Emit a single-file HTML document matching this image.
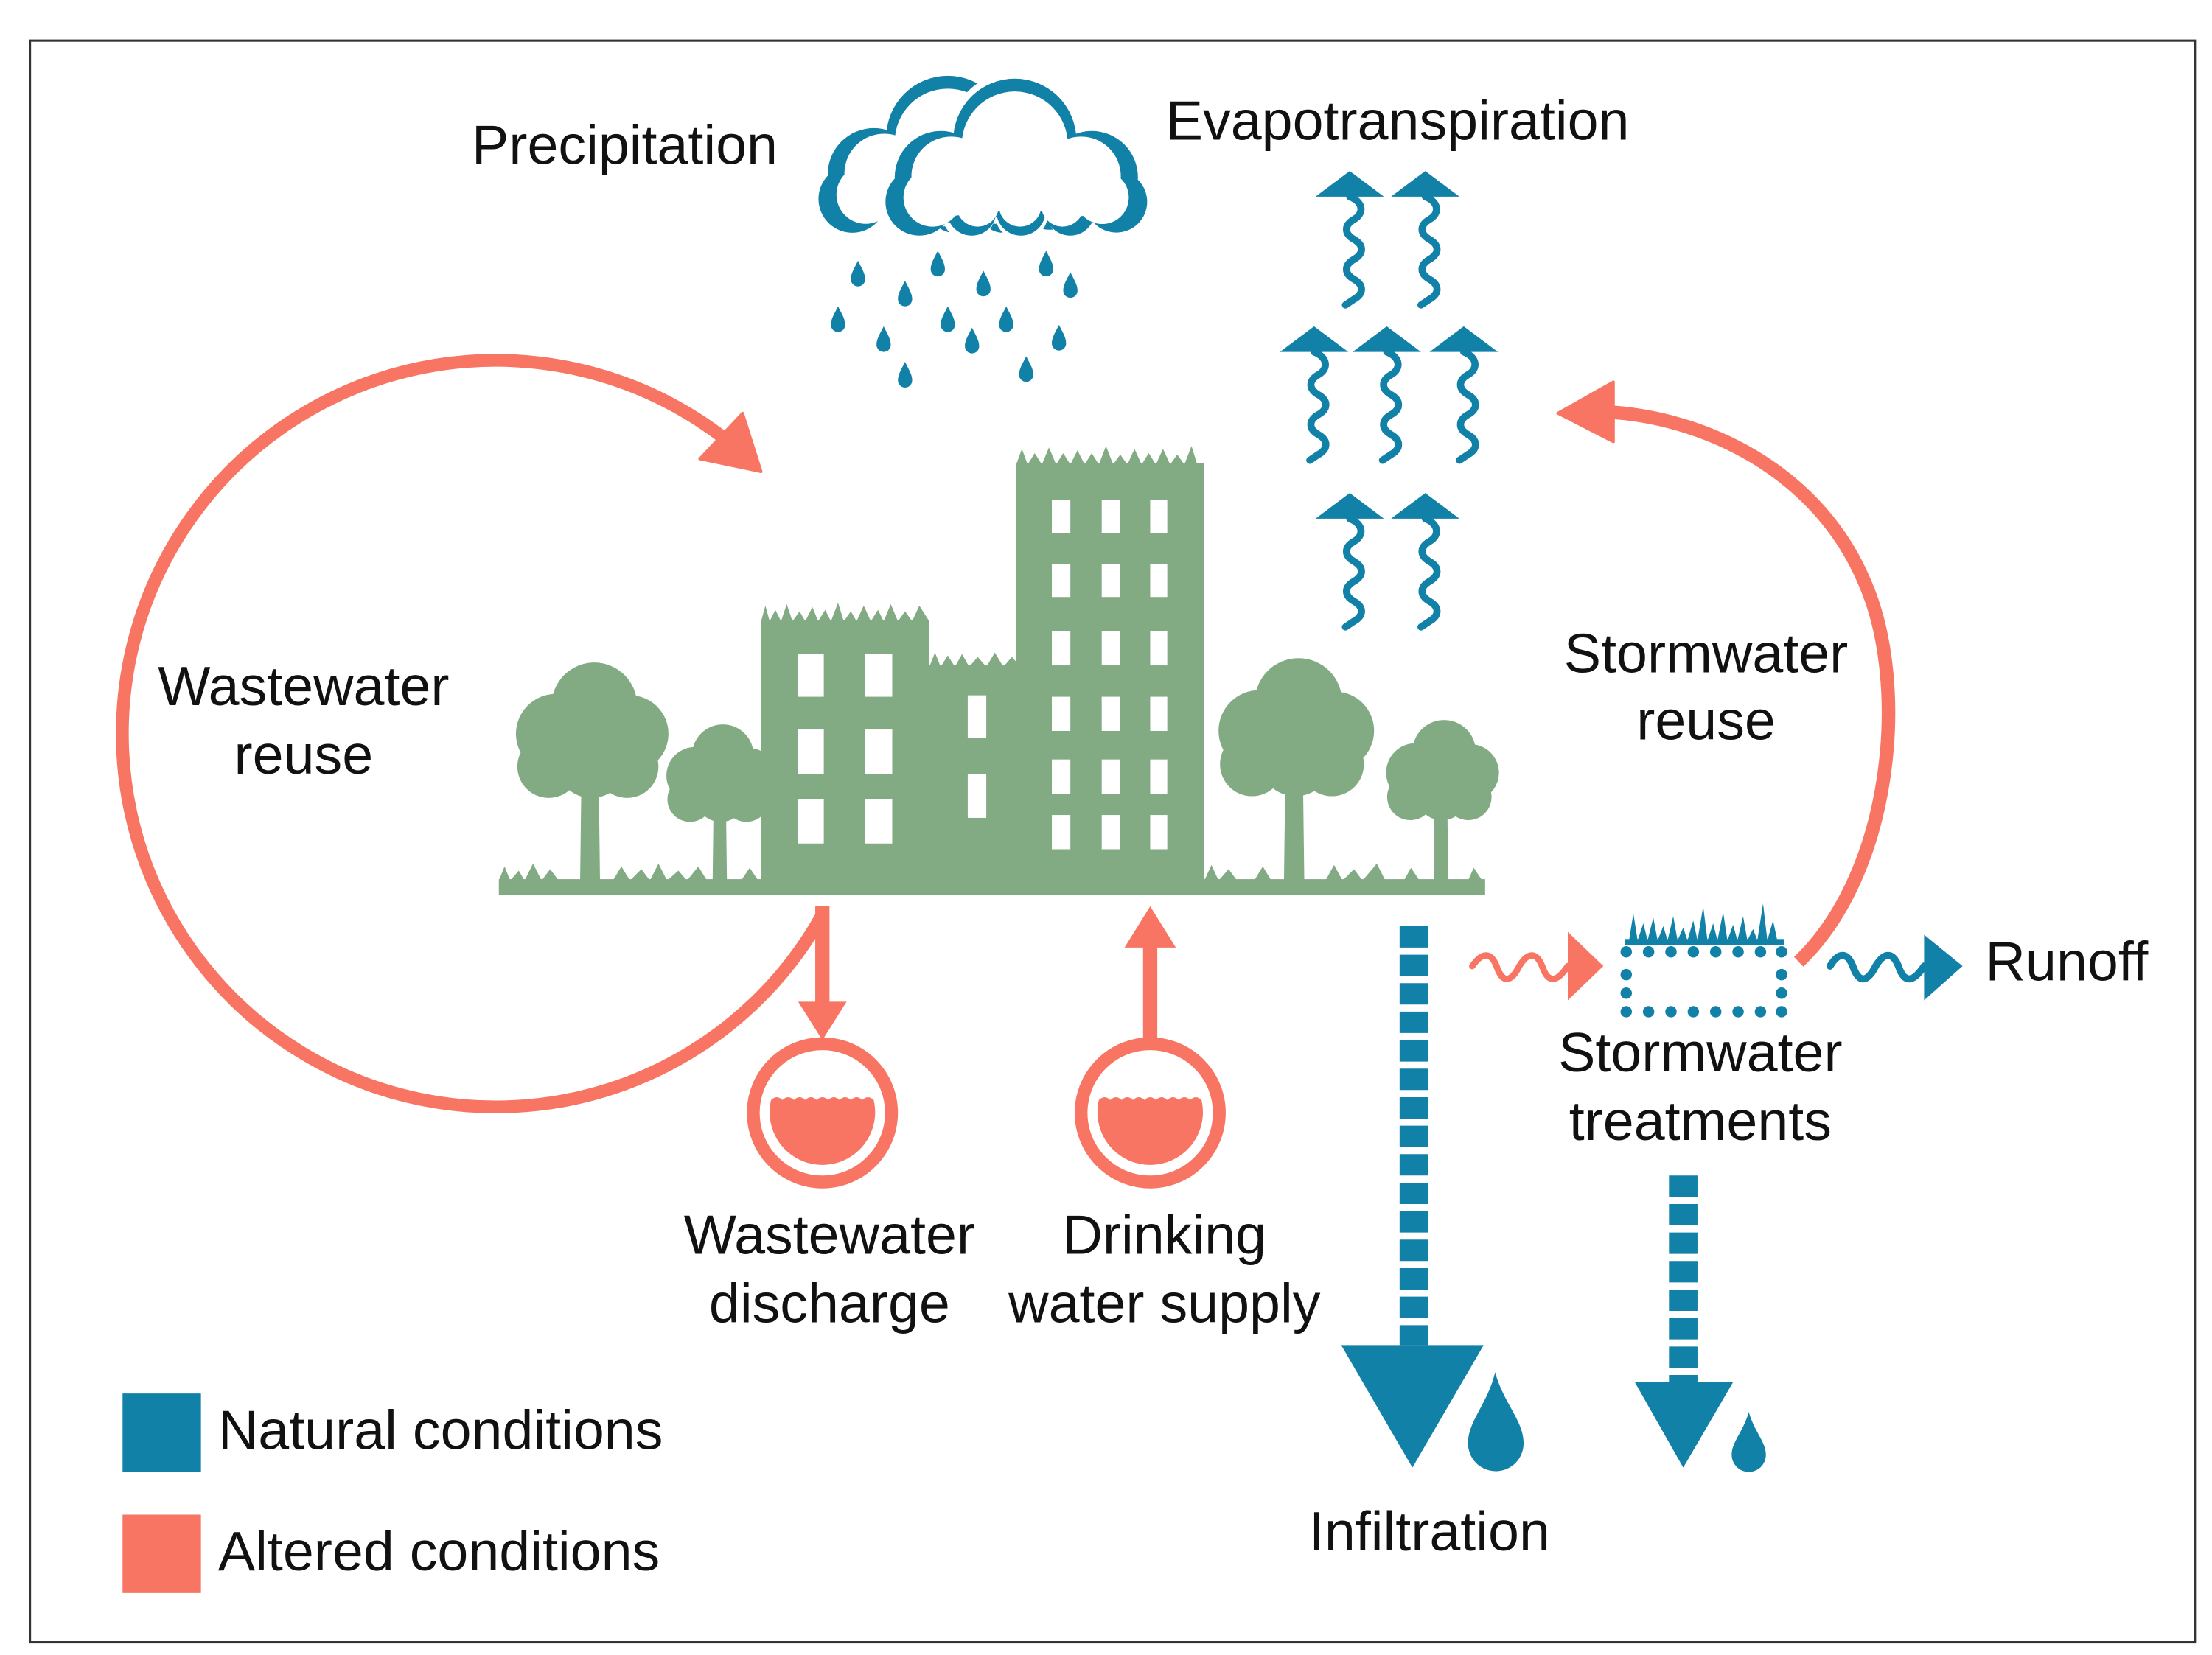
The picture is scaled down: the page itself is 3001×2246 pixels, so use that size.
<!DOCTYPE html>
<html><head><meta charset="utf-8">
<style>
html,body{margin:0;padding:0;background:#fff;}
svg{display:block;}
text{font-family:"Liberation Sans",Arial,sans-serif;font-size:39px;fill:#111;}
</style></head>
<body>
<svg width="3001" height="2246" viewBox="0 0 1552 1161.5" xmlns="http://www.w3.org/2000/svg">
<defs>
<path id="drop" d="M0 -10 C3 -4 5 -1 5 3 A5 5 0 0 1 -5 3 C-5 -1 -3 -4 0 -10Z" fill="#1281a8"/>
<g id="evap">
<path d="M-24 18 L0 0 L24 18 Z" fill="#1281a8"/>
<path d="M0 18 C10 22 10 30 3 34 C-4 38 -4 44 3 48 C10 52 10 58 3 62 C-4 66 -4 72 3 76 C10 80 10 86 3 90 L-3 94" fill="none" stroke="#1281a8" stroke-width="5" stroke-linecap="round"/>
</g>
<g id="tree1" fill="#82ab84">
<circle cx="417" cy="495" r="30"/><circle cx="390" cy="515" r="28"/><circle cx="442" cy="515" r="27"/>
<circle cx="385" cy="538" r="22"/><circle cx="415" cy="535" r="25"/><circle cx="440" cy="538" r="22"/>
<path d="M408 540 L420 540 L421 620 L407 620Z"/>
</g>
<g id="cloudshape">
<circle cx="712" cy="100" r="40"/>
<circle cx="664" cy="124" r="30"/>
<circle cx="762" cy="124" r="30"/>
<circle cx="650" cy="140" r="22"/>
<circle cx="778" cy="140" r="20"/>
<circle cx="684" cy="146" r="16"/>
<circle cx="716" cy="146" r="16"/>
<circle cx="748" cy="146" r="16"/>
<rect x="650" y="110" width="128" height="40"/>
</g>
</defs>
<rect x="0" y="0" width="1552" height="1161.5" fill="#fff"/>
<rect x="21" y="28.5" width="1519" height="1124" fill="none" stroke="#333" stroke-width="1.6"/>

<!-- text -->
<text x="331" y="115">Precipitation</text>
<text x="818" y="98">Evapotranspiration</text>
<text x="213" y="495" text-anchor="middle">Wastewater</text>
<text x="213" y="543" text-anchor="middle">reuse</text>
<text x="1197" y="472" text-anchor="middle">Stormwater</text>
<text x="1197" y="519" text-anchor="middle">reuse</text>
<text x="582" y="880" text-anchor="middle">Wastewater</text>
<text x="582" y="928" text-anchor="middle">discharge</text>
<text x="817" y="880" text-anchor="middle">Drinking</text>
<text x="817" y="928" text-anchor="middle">water supply</text>
<text x="1193" y="752" text-anchor="middle">Stormwater</text>
<text x="1193" y="800" text-anchor="middle">treatments</text>
<text x="1003" y="1088" text-anchor="middle">Infiltration</text>
<text x="1393" y="688">Runoff</text>
<text x="153" y="1017">Natural conditions</text>
<text x="153" y="1102">Altered conditions</text>
<rect x="86" y="978" width="55" height="55" fill="#1281a8"/>
<rect x="86" y="1063" width="55" height="55" fill="#f87563"/>

<!-- clouds -->
<g transform="translate(-47,-2)">
<g fill="#1281a8" transform="translate(712,120) scale(1.08) translate(-712,-120)"><use href="#cloudshape"/></g>
<g fill="#fff" transform="translate(712,120) scale(0.93) translate(-712,-120)"><use href="#cloudshape"/></g>
</g>
<g fill="#fff" transform="translate(712,120) scale(1.16) translate(-712,-120)"><use href="#cloudshape"/></g>
<g fill="#1281a8" transform="translate(712,120) scale(1.08) translate(-712,-120)"><use href="#cloudshape"/></g>
<g fill="#fff" transform="translate(712,120) scale(0.93) translate(-712,-120)"><use href="#cloudshape"/></g>

<use href="#drop" x="602" y="193"/><use href="#drop" x="658" y="186"/><use href="#drop" x="734" y="186"/>
<use href="#drop" x="635" y="207"/><use href="#drop" x="690" y="200"/><use href="#drop" x="751" y="201"/>
<use href="#drop" x="588" y="225"/><use href="#drop" x="665" y="225"/><use href="#drop" x="706" y="225"/>
<use href="#drop" x="620" y="239"/><use href="#drop" x="682" y="240"/><use href="#drop" x="743" y="238"/>
<use href="#drop" x="635" y="264"/><use href="#drop" x="720" y="260"/>

<!-- evapotranspiration arrows -->
<use href="#evap" x="947" y="120"/><use href="#evap" x="1000" y="120"/>
<use href="#evap" x="922" y="229"/><use href="#evap" x="973" y="229"/><use href="#evap" x="1027" y="229"/>
<use href="#evap" x="947" y="346"/><use href="#evap" x="1000" y="346"/>

<!-- city -->
<g fill="#82ab84">
<rect x="350" y="617" width="692" height="11"/>
<rect x="534" y="435" width="118" height="190"/>
<rect x="650" y="467" width="66" height="158"/>
<rect x="713" y="325" width="132" height="300"/>
<path d="M534 436 L537 425 L540 436 L544 428 L548 436 L552 424 L556 436 L561 429 L565 436 L570 426 L574 436 L579 428 L583 436 L588 423 L592 436 L597 429 L601 436 L606 425 L611 436 L616 428 L620 436 L625 424 L630 436 L635 429 L640 436 L645 425 L652 436Z"/>
<path d="M652 468 L656 458 L660 468 L665 460 L670 468 L675 459 L680 468 L686 461 L692 468 L698 458 L704 468 L710 461 L716 468Z"/>
<path d="M713 326 L717 315 L721 326 L726 318 L731 326 L736 314 L741 326 L746 318 L751 326 L756 316 L761 326 L766 318 L771 326 L776 313 L781 326 L786 319 L791 326 L796 315 L801 326 L806 318 L811 326 L816 315 L821 326 L826 319 L831 326 L836 313 L840 326 L845 326Z"/>
<path d="M350 618 L354 608 L358 618 L364 611 L368 618 L374 606 L380 618 L386 610 L392 618 L430 618 L436 608 L442 618 L450 610 L456 618 L462 606 L468 618 L476 611 L482 618 L490 608 L496 618 L520 618 L526 609 L532 618Z"/>
<path d="M845 618 L850 607 L855 618 L862 610 L868 618 L880 618 L886 608 L892 618 L930 618 L936 607 L942 618 L950 610 L956 618 L966 606 L972 618 L985 618 L990 609 L996 618 L1030 618 L1034 609 L1040 618Z"/>
<use href="#tree1"/>
<g transform="translate(505,620) scale(0.72) translate(-414,-620)"><use href="#tree1"/></g>
<g transform="translate(908,620) scale(1.02,1.02) translate(-414,-620)"><use href="#tree1"/></g>
<g transform="translate(1011,620) scale(0.74) translate(-414,-620)"><use href="#tree1"/></g>
</g>
<g fill="#fff">
<rect x="560" y="459" width="18" height="30"/><rect x="607" y="459" width="19" height="30"/>
<rect x="560" y="512" width="18" height="31"/><rect x="607" y="512" width="19" height="31"/>
<rect x="560" y="561" width="18" height="31"/><rect x="607" y="561" width="19" height="31"/>
<rect x="679" y="488" width="13" height="30"/><rect x="679" y="543" width="13" height="31"/>
<rect x="738" y="351" width="13" height="23"/><rect x="773" y="351" width="13" height="23"/><rect x="807" y="351" width="12" height="23"/>
<rect x="738" y="396" width="13" height="23"/><rect x="773" y="396" width="13" height="23"/><rect x="807" y="396" width="12" height="23"/>
<rect x="738" y="443" width="13" height="24"/><rect x="773" y="443" width="13" height="24"/><rect x="807" y="443" width="12" height="24"/>
<rect x="738" y="489" width="13" height="24"/><rect x="773" y="489" width="13" height="24"/><rect x="807" y="489" width="12" height="24"/>
<rect x="738" y="533" width="13" height="24"/><rect x="773" y="533" width="13" height="24"/><rect x="807" y="533" width="12" height="24"/>
<rect x="738" y="572" width="13" height="24"/><rect x="773" y="572" width="13" height="24"/><rect x="807" y="572" width="12" height="24"/>
</g>

<!-- wastewater reuse arc -->
<path d="M578 640 A262 262 0 1 1 506 306" fill="none" stroke="#f87563" stroke-width="9"/>
<path d="M534 331 L521 290 L491 322 Z" fill="#f87563" stroke="#f87563" stroke-width="2" stroke-linejoin="round"/>

<!-- discharge / supply -->
<g fill="#f87563">
<rect x="572" y="636" width="10" height="70"/>
<path d="M560 703 L594 703 L577 730 Z"/>
<rect x="802" y="660" width="10" height="75"/>
<path d="M789 665 L825 665 L807 636 Z"/>
</g>
<g>
<circle cx="577" cy="781" r="48.5" fill="none" stroke="#f87563" stroke-width="9"/>
<path d="M541 772 Q545 768 549 772 Q553 768 557 772 Q561 768 565 772 Q569 768 573 772 Q577 768 581 772 Q585 768 589 772 Q593 768 597 772 Q601 768 605 772 Q609 768 613 772 A37 37 0 1 1 541 772Z" fill="#f87563"/>
<circle cx="807" cy="781" r="48.5" fill="none" stroke="#f87563" stroke-width="9"/>
<path d="M771 772 Q775 768 779 772 Q783 768 787 772 Q791 768 795 772 Q799 768 803 772 Q807 768 811 772 Q815 768 819 772 Q823 768 827 772 Q831 768 835 772 Q839 768 843 772 A37 37 0 1 1 771 772Z" fill="#f87563"/>
</g>

<!-- infiltration -->
<line x1="992" y1="650" x2="992" y2="944" stroke="#1281a8" stroke-width="20" stroke-dasharray="15 5"/>
<path d="M941 944 L1041 944 L991 1030 Z" fill="#1281a8"/>
<path d="M1049 963 C1055 985 1069 997 1069 1013 A19.5 19.5 0 0 1 1030 1013 C1030 997 1044 985 1049 963Z" fill="#1281a8"/>
<line x1="1181" y1="825" x2="1181" y2="970" stroke="#1281a8" stroke-width="20" stroke-dasharray="15 5"/>
<path d="M1147 970 L1216 970 L1181 1030 Z" fill="#1281a8"/>
<path d="M1227 991 C1231 1005 1239 1012 1239 1021 A12 12 0 0 1 1215 1021 C1215 1012 1223 1005 1227 991Z" fill="#1281a8"/>

<!-- runoff waves -->
<path d="M1033 678 C1040 668 1046 668 1050 678 C1054 690 1060 690 1066 678 C1072 668 1078 668 1082 678 C1086 690 1092 690 1100 678" fill="none" stroke="#f87563" stroke-width="4.5" stroke-linecap="round"/>
<path d="M1100 654 L1125 678 L1100 702 Z" fill="#f87563"/>
<path d="M1284 678 C1290 668 1296 668 1300 678 C1304 690 1310 690 1316 678 C1322 668 1328 668 1332 678 C1336 690 1342 690 1350 678" fill="none" stroke="#1281a8" stroke-width="5" stroke-linecap="round"/>
<path d="M1350 656 L1377 678 L1350 702 Z" fill="#1281a8"/>

<!-- stormwater treatment -->
<g fill="#1281a8">
<rect x="1140" y="659" width="112" height="4"/>
<path d="M1143 660 L1146 641 L1149 660 L1153 648 L1156 660 L1160 644 L1163 660 L1167 650 L1170 660 L1174 643 L1177 660 L1181 651 L1184 660 L1188 646 L1191 660 L1195 636 L1198 660 L1202 648 L1205 660 L1209 640 L1212 660 L1216 649 L1219 660 L1223 643 L1226 660 L1230 652 L1233 660 L1237 634 L1240 660 L1244 646 L1247 660Z"/>
<circle cx="1141" cy="668" r="4"/><circle cx="1156.7" cy="668" r="4"/><circle cx="1172.4" cy="668" r="4"/><circle cx="1188.1" cy="668" r="4"/><circle cx="1203.8" cy="668" r="4"/><circle cx="1219.5" cy="668" r="4"/><circle cx="1235.2" cy="668" r="4"/><circle cx="1250" cy="668" r="4"/>
<circle cx="1141" cy="684" r="4"/><circle cx="1250" cy="684" r="4"/>
<circle cx="1141" cy="697" r="4"/><circle cx="1250" cy="697" r="4"/>
<circle cx="1141" cy="710" r="4"/><circle cx="1156.7" cy="710" r="4"/><circle cx="1172.4" cy="710" r="4"/><circle cx="1188.1" cy="710" r="4"/><circle cx="1203.8" cy="710" r="4"/><circle cx="1219.5" cy="710" r="4"/><circle cx="1235.2" cy="710" r="4"/><circle cx="1250" cy="710" r="4"/>
</g>

<!-- stormwater reuse arc -->
<path d="M1262 675 C1328 612 1340 480 1308 408 C1275 330 1195 292 1125 289" fill="none" stroke="#f87563" stroke-width="9.5"/>
<path d="M1093 290 L1132 268 L1132 310 Z" fill="#f87563" stroke="#f87563" stroke-width="2" stroke-linejoin="round"/>
</svg>
</body></html>
